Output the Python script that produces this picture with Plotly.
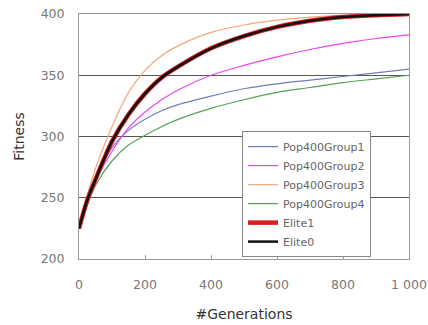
import plotly.graph_objects as go

gens = [0, 25, 50, 100, 150, 200, 250, 300, 400, 500, 600, 700, 800, 900, 1000]

group1 = [225, 247, 265, 291, 305, 314, 321, 326, 333, 339, 343, 346, 349, 352, 355]
group2 = [225, 249, 264, 288, 307, 320, 330, 338, 350, 358, 365, 371, 376, 380, 383]
group3 = [225, 252, 274, 308, 336, 354, 366, 374, 385, 391, 395, 397.5, 399, 399.5, 400]
group4 = [225, 244, 260, 280, 293, 301, 308, 314, 323, 330, 336, 340, 344, 347, 350]
elite1 = [225, 248, 265, 296, 318, 335, 348, 357, 372, 382, 389.5, 394.5, 397.5, 399, 400]
elite0 = [225, 248, 265, 296, 318, 335, 348, 357, 372, 382, 389.5, 394.5, 397.5, 399, 400]

x_ticks = [0, 200, 400, 600, 800, 1000]
x_tick_labels = ["0", "200", "400", "600", "800", "1 000"]
y_ticks = [200, 250, 300, 350, 400]

series = [
    ("Pop400Group1", group1, "#6f7fb8", 1.2),
    ("Pop400Group2", group2, "#ee44ee", 1.2),
    ("Pop400Group3", group3, "#f4a77a", 1.2),
    ("Pop400Group4", group4, "#55a255", 1.2),
    ("Elite1", elite1, "#d42020", 4.5),
    ("Elite0", elite0, "#111111", 2.5),
]

fig = go.Figure()
for name, ys, color, w in series:
    fig.add_trace(go.Scatter(x=gens, y=ys, name=name, mode="lines",
                             line=dict(color=color, width=w, shape="spline", smoothing=0.8)))

fig.update_layout(
    width=428, height=325,
    margin=dict(l=79, r=19, t=14, b=66, autoexpand=False),
    plot_bgcolor="white", paper_bgcolor="white",
    font=dict(family="DejaVu Sans, Liberation Sans, sans-serif", size=12, color="#666"),
    showlegend=True,
    legend=dict(x=0.494, y=0.522, xanchor="left", yanchor="top",
                bgcolor="white", bordercolor="#888", borderwidth=1,
                font=dict(size=11, color="#666"), tracegroupgap=0,
                itemwidth=30),
)
fig.update_xaxes(range=[0, 1000], tickvals=x_ticks, ticktext=x_tick_labels,
                 showgrid=False, showline=True, linecolor="#999", linewidth=1, mirror=True,
                 ticks="inside", ticklen=4, tickcolor="#999", zeroline=False, automargin=False,
                 ticklabelstandoff=14, tickfont=dict(size=12.5, color="#777"),
                 title=dict(text="#Generations", font=dict(size=14, color="#333"), standoff=18))
fig.update_yaxes(range=[200, 400], tickvals=y_ticks,
                 showgrid=True, gridcolor="#555", gridwidth=1,
                 showline=True, linecolor="#999", linewidth=1, mirror=True,
                 ticks="", zeroline=False, automargin=False,
                 ticklabelstandoff=11, tickfont=dict(size=12.5, color="#777"),
                 title=dict(text="Fitness", font=dict(size=14, color="#333"), standoff=12))

fig.write_html("out.html", config={"displayModeBar": False},
               post_script="document.body.style.margin='0';document.body.style.overflow='hidden';")
